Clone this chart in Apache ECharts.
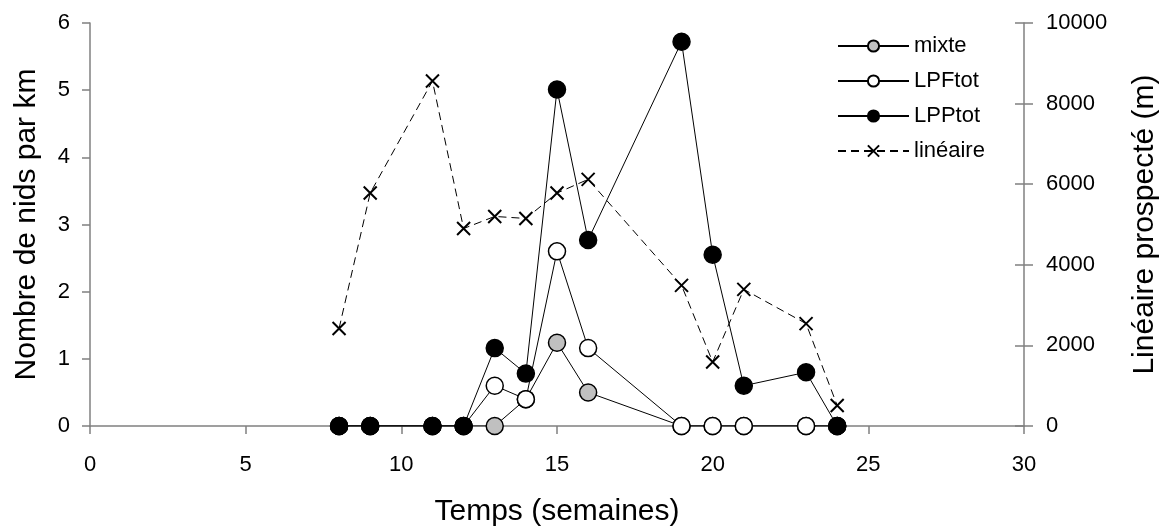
<!DOCTYPE html>
<html>
<head>
<meta charset="utf-8">
<script src="https://cdn.jsdelivr.net/npm/echarts@6/dist/echarts.min.js"></script>
<style>
  html, body { margin: 0; padding: 0; background: #fff; }
  #chart { width: 1168px; height: 532px; }
</style>
</head>
<body>
<div id="chart"></div>
<script>
  // semaines
  const weeks = [8, 9, 11, 12, 13, 14, 15, 16, 19, 20, 21, 23, 24];
  // nids par km
  const mixte = [0, 0, 0, 0, 0, 0.4, 1.24, 0.5, 0, 0, 0, 0, 0];
  const lpfTot = [0, 0, 0, 0, 0.6, 0.4, 2.6, 1.16, 0, 0, 0, 0, 0];
  const lppTot = [0, 0, 0, 0, 1.16, 0.78, 5.01, 2.77, 5.72, 2.55, 0.6, 0.8, 0];
  // linéaire prospecté (m)
  const lineaire = [2420, 5780, 8560, 4900, 5200, 5150, 5780, 6120, 3490, 1590, 3390, 2540, 510];

  const pair = (ys) => weeks.map((w, i) => [w, ys[i]]);

  const font = 'Liberation Sans, Arial, sans-serif';
  const axisGray = '#808080';
  const cross = 'path://M0,0L10,10M10,0L0,10';
  const plain = (v) => String(v);

  const myChart = echarts.init(document.getElementById('chart'));

  const dotSeries = (name, data, fill) => ({
    name: name,
    type: 'line',
    yAxisIndex: 0,
    data: pair(data),
    symbol: 'circle',
    symbolSize: 17,
    lineStyle: { color: '#000', width: 1 },
    itemStyle: { color: fill, borderColor: '#000', borderWidth: 1.5 },
    emphasis: { disabled: true },
    z: 3
  });

  const option = {
    animation: false,
    textStyle: { fontFamily: font },
    grid: { left: 90, right: 137, top: 23, bottom: 102 },
    legend: {
      orient: 'vertical',
      left: 832,
      top: 30,
      itemWidth: 71,
      itemHeight: 14,
      itemGap: 13,
      textStyle: { fontSize: 22, color: '#000', fontFamily: font },
      data: ['mixte', 'LPFtot', 'LPPtot', 'linéaire']
    },
    xAxis: {
      type: 'value',
      min: 0,
      max: 30,
      interval: 5,
      name: 'Temps (semaines)',
      nameLocation: 'middle',
      nameGap: 71,
      nameTextStyle: { fontSize: 30, color: '#000', fontFamily: font },
      axisLine: { lineStyle: { color: axisGray, width: 1.5 } },
      axisTick: { length: 8, lineStyle: { color: axisGray, width: 1.5 } },
      axisLabel: { fontSize: 22, color: '#000', margin: 28 },
      splitLine: { show: false }
    },
    yAxis: [
      {
        type: 'value',
        min: 0,
        max: 6,
        interval: 1,
        position: 'left',
        name: 'Nombre de nids par km',
        nameLocation: 'middle',
        nameGap: 48,
        nameTextStyle: { fontSize: 30, color: '#000', fontFamily: font },
        axisLine: { show: true, lineStyle: { color: axisGray, width: 1.5 } },
        axisTick: { show: true, length: 8, lineStyle: { color: axisGray, width: 1.5 } },
        axisLabel: { fontSize: 22, color: '#000', margin: 20 },
        splitLine: { show: false }
      },
      {
        type: 'value',
        min: 0,
        max: 10000,
        interval: 2000,
        position: 'right',
        name: 'Linéaire prospecté (m)',
        nameLocation: 'middle',
        nameGap: 106,
        nameRotate: 90,
        nameTextStyle: { fontSize: 30, color: '#000', fontFamily: font },
        axisLine: { show: true, lineStyle: { color: axisGray, width: 1.5 } },
        axisTick: { show: true, length: 9, lineStyle: { color: axisGray, width: 1.5 } },
        axisLabel: { fontSize: 22, color: '#000', margin: 22, formatter: plain },
        splitLine: { show: false }
      },
      {
        // ticks inward on the right axis so they cross the line
        type: 'value',
        min: 0,
        max: 10000,
        interval: 2000,
        position: 'right',
        axisLine: { show: false },
        axisTick: { show: true, inside: true, length: 9, lineStyle: { color: axisGray, width: 1.5 } },
        axisLabel: { show: false },
        splitLine: { show: false }
      }
    ],
    series: [
      dotSeries('mixte', mixte, '#c0c0c0'),
      dotSeries('LPFtot', lpfTot, '#ffffff'),
      dotSeries('LPPtot', lppTot, '#000000'),
      {
        name: 'linéaire',
        type: 'line',
        yAxisIndex: 1,
        data: pair(lineaire),
        symbol: cross,
        symbolSize: 13,
        lineStyle: { color: '#000', width: 1, type: [8, 5] },
        itemStyle: { color: 'none', borderColor: '#000', borderWidth: 2 },
        emphasis: { disabled: true },
        z: 2
      }
    ]
  };

  myChart.setOption(option);
  window.addEventListener('resize', function () {
    myChart.resize();
  });
</script>
</body>
</html>
